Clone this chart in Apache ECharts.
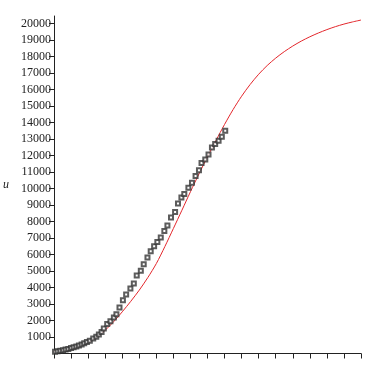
<!DOCTYPE html>
<html>
<head>
<meta charset="utf-8">
<script src="https://cdn.jsdelivr.net/npm/echarts@6/dist/echarts.min.js"></script>
<style>
  html, body { margin: 0; padding: 0; background: #fff; }
  #chart { width: 370px; height: 365px; }
</style>
</head>
<body>
<div id="chart"></div>
<script>
// y tick labels (0 is not labelled)
const yTicks = [1000, 2000, 3000, 4000, 5000, 6000, 7000, 8000, 9000, 10000,
    11000, 12000, 13000, 14000, 15000, 16000, 17000, 18000, 19000, 20000];

const obsX = [0.06, 0.21, 0.37, 0.53, 0.68, 0.84, 1.0, 1.15, 1.31, 1.46, 1.62, 1.77, 1.93,
    2.1, 2.3, 2.48, 2.63, 2.79, 2.92, 3.12, 3.31, 3.51, 3.66, 3.84, 4.04, 4.23, 4.48,
    4.68, 4.85, 5.09, 5.26, 5.48, 5.67, 5.87, 6.06, 6.26, 6.47, 6.65, 6.86, 7.10, 7.27,
    7.47, 7.64, 7.88, 8.09, 8.30, 8.50, 8.65, 8.87, 9.06, 9.26, 9.45, 9.65, 9.84, 10.04];
// observed u
const obsU = [100, 130, 160, 200, 240, 280, 330, 380, 430, 490, 550, 620, 700,
    770, 910, 1010, 1150, 1310, 1510, 1780, 1960, 2180, 2380, 2790, 3230, 3570, 3940,
    4240, 4730, 5010, 5410, 5820, 6200, 6500, 6750, 7030, 7430, 7760, 8240, 8580, 9090,
    9450, 9660, 10040, 10340, 10750, 11110, 11550, 11760, 12060, 12480, 12690, 12890, 13130, 13490];

// fitted curve, read every half tick
const fitX = [0, 0.5, 1, 1.5, 2, 2.5, 3, 3.5, 4, 4.5, 5, 5.5, 6, 6.5, 7, 7.5, 8, 8.5, 9,
    9.5, 10, 10.5, 11, 11.5, 12, 12.5, 13, 13.5, 14, 14.5, 15, 15.5, 16, 16.5, 17, 17.5, 18];
const fitU = [140, 200, 280, 440, 650, 990, 1410, 1930, 2525, 3160, 3840, 4600, 5450,
    6480, 7575, 8680, 9800, 10880, 11920, 12910, 13880, 14780, 15590, 16300, 16920,
    17450, 17900, 18290, 18630, 18930, 19190, 19420, 19625, 19805, 19960, 20090, 20205];

const chart = echarts.init(document.getElementById('chart'));

const font = 'Liberation Serif';

chart.setOption({
    animation: false,
    grid: { left: 52, right: 9, top: 16, bottom: 11.5 },
    xAxis: {
        type: 'value',
        min: 0,
        max: 18,
        interval: 1,
        axisLine: { lineStyle: { color: '#222', width: 1 } },
        axisTick: { show: true, length: 5, lineStyle: { color: '#222' } },
        axisLabel: { show: false },
        splitLine: { show: false }
    },
    yAxis: {
        type: 'value',
        min: 0,
        max: 20450,
        name: 'u',
        nameLocation: 'middle',
        nameRotate: 0,
        nameGap: 45,
        nameTextStyle: {
            fontFamily: font,
            fontStyle: 'italic',
            fontSize: 12,
            color: '#222',
            padding: [12, 0, 0, 0]
        },
        axisLine: { show: true, lineStyle: { color: '#222', width: 1 } },
        axisTick: { show: true, length: 5, customValues: yTicks, lineStyle: { color: '#222' } },
        axisLabel: {
            customValues: yTicks,
            formatter: v => String(v),
            fontFamily: font,
            fontSize: 12,
            color: '#222',
            margin: 3
        },
        splitLine: { show: false }
    },
    series: [
        {
            type: 'line',
            data: fitX.map((x, i) => [x, fitU[i]]),
            smooth: 0.3,
            showSymbol: false,
            lineStyle: { color: '#e3262b', width: 1 },
            z: 2
        },
        {
            type: 'scatter',
            data: obsX.map((x, i) => [x, obsU[i]]),
            symbol: 'emptyRect',
            symbolSize: 4,
            itemStyle: { color: '#333', borderWidth: 0.9 },
            z: 3
        }
    ]
});
</script>
</body>
</html>
